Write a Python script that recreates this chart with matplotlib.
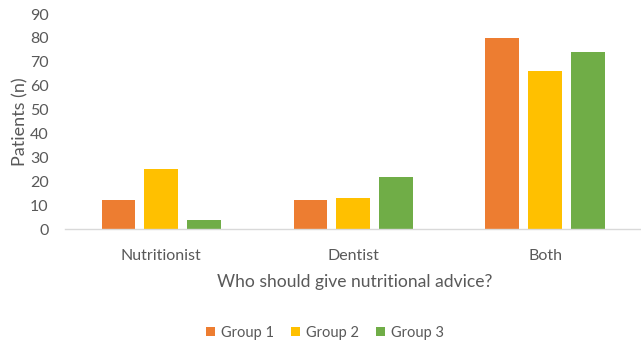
import matplotlib
matplotlib.use("Agg")
import matplotlib.pyplot as plt
import numpy as np

categories = ["Nutritionist", "Dentist", "Both"]
group1 = [12, 12, 80]
group2 = [25, 13, 66]
group3 = [4, 22, 74]
series_names = ["Group 1", "Group 2", "Group 3"]
colors = ["#ED7D31", "#FFC000", "#70AD47"]
yticks = list(range(0, 91, 10))

plt.rcParams["font.family"] = ["Lato", "DejaVu Sans"]
text_color = "#595959"

fig = plt.figure(figsize=(6.41, 3.43), dpi=100)
ax = fig.add_axes([0.102, 0.332, 0.898, 0.627])

x = np.arange(len(categories))
width = 0.176
step = 0.223
for i, (vals, name, c) in enumerate(zip([group1, group2, group3], series_names, colors)):
    ax.bar(x + (i - 1) * step, vals, width=width, color=c, label=name)

ax.set_xlim(-0.5, len(categories) - 0.5)
ax.set_ylim(0, 90)
ax.set_yticks(yticks)
ax.set_xticks(x)
ax.set_xticklabels(categories)
ax.tick_params(axis="both", length=0, colors=text_color, labelsize=11.5)
ax.tick_params(axis="y", pad=12)
ax.tick_params(axis="x", pad=14)

for side in ["top", "right", "left"]:
    ax.spines[side].set_visible(False)
ax.spines["bottom"].set_color("#D9D9D9")
ax.spines["bottom"].set_linewidth(1.0)

ax.set_ylabel("Patients (n)", color=text_color, fontsize=13, labelpad=1)
fig.text(0.554, 0.163, "Who should give nutritional advice?", ha="center", va="baseline",
         color=text_color, fontsize=12.6)

handles, labels = ax.get_legend_handles_labels()
fig.legend(handles, labels, loc="center", bbox_to_anchor=(0.507, 0.030), ncol=3,
           frameon=False, fontsize=10.5, handlelength=0.6, handleheight=0.6,
           handletextpad=0.4, columnspacing=1.2, labelcolor=text_color)

fig.savefig("out.png", dpi=100)
